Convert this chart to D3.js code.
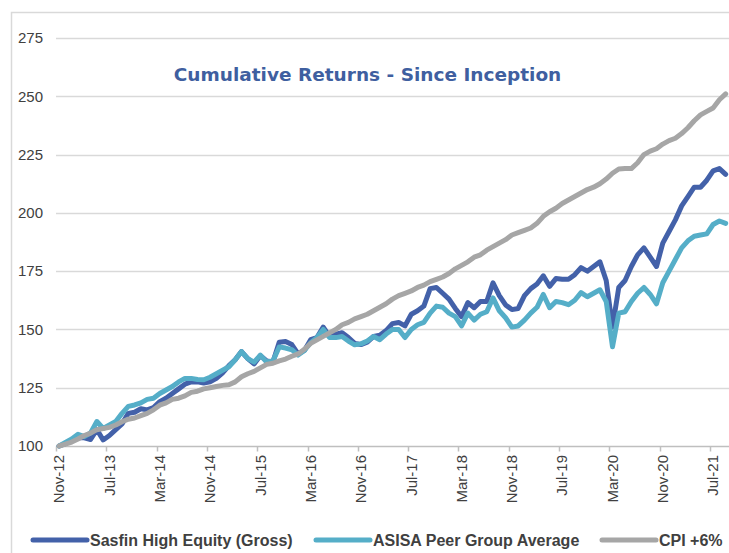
<!DOCTYPE html>
<html>
<head>
<meta charset="utf-8">
<script src="https://cdn.jsdelivr.net/npm/d3@7"></script>
<style>
    body { margin: 0; background: #fff; }
    svg { display: block; }
</style>
</head>
<body>
<div id="chart"></div>
<script>

// Monthly index levels, Nov-12 .. Sep-21 (base 100)
var sasfin = [
    100, 101, 102.5, 103.5, 103.5, 102.8, 107, 102.6, 104.5, 107,
    109.5, 114, 114.5, 116, 115.5, 116.5, 119, 120.5, 122.5, 124.5,
    126.5, 127.5, 127.5, 127, 127.5, 129, 131.4, 134.5, 137, 140.5,
    137.5, 135.2, 138.8, 136.5, 136, 144.5, 144.8, 143.5, 139.5, 141,
    145.6, 146.5, 151, 147, 148, 148.6, 146.5, 144, 143.5, 144.5,
    147, 147.5, 149.5, 152.5, 153, 151.5, 156.5, 158, 160, 167.5,
    168, 165.5, 163, 159, 155.5, 161.5, 159.3, 162, 162, 170,
    164.5, 160.5, 158.5, 159, 164.5, 167.5, 169.5, 173, 168.5, 171.8,
    171.5, 171.5, 173.5, 176.5, 175, 177, 179, 171, 151, 168,
    171, 177, 182, 185, 181, 177, 187, 192, 197, 203,
    207, 211, 211, 214, 218, 219, 216.5
];

var asisa = [
    100, 101.5, 103, 105, 104, 105.6, 110.5, 107.5, 109, 110.5,
    114, 117, 117.6, 118.5, 120, 120.5, 122.5, 124, 125.5, 127.5,
    129, 129, 128.5, 128.4, 129.5, 131, 132.5, 134, 137, 140.5,
    137.5, 136, 139, 136, 136.5, 142.5, 142, 141.3, 139, 141,
    144.3, 146.5, 150, 146.5, 146.5, 147, 145, 143.4, 143.8, 145,
    147, 145.6, 148, 150, 150, 146.5, 150, 152, 153, 157,
    160, 159.5, 157, 155.5, 151.5, 157, 154, 156.5, 157.6, 163.5,
    158, 155, 151, 151.5, 154, 157, 159.5, 165, 159.3, 162,
    161.5, 160.6, 162.5, 165.8, 164, 165.5, 167, 162, 142.6, 157,
    157.6, 162, 165.5, 168, 165, 161, 170, 175, 180, 185,
    188, 190, 190.5, 191, 195, 196.5, 195.5
];

var cpi = [
    100, 100.8, 101.7, 103, 104.5, 105.5, 107, 107.5, 108, 109,
    110.4, 111.5, 112, 113, 114, 115.5, 117.5, 118.5, 120, 120.5,
    121.5, 123, 123.5, 124.5, 125, 125.5, 126, 126.3, 127.5, 129.7,
    131, 132, 133.5, 135, 135.5, 136.5, 137.3, 138.5, 139.5, 141.5,
    144, 145.5, 147, 148.5, 150, 152, 153, 154.5, 155.5, 156.5,
    158, 159.5, 161, 163, 164.5, 165.5, 166.5, 168, 169, 170.5,
    171.5, 172.5, 174, 176, 177.5, 179, 181, 182, 184, 185.5,
    187, 188.5, 190.5, 191.5, 192.5, 193.5, 195.5, 198.5, 200.5, 202,
    204, 205.5, 207, 208.5, 210, 211, 212.5, 214.5, 217, 218.8,
    219, 219, 221.5, 225, 226.5, 227.5, 229.5, 231, 232, 234,
    236.5, 239.5, 242, 243.5, 245, 248.5, 251
];

var yTicks = [100, 125, 150, 175, 200, 225, 250, 275];

var seriesNames = ['Sasfin High Equity (Gross)', 'ASISA Peer Group Average', 'CPI +6%'];
var seriesColors = ['#4361a9', '#55aec8', '#a6a6a6'];

var formatMonth = d3.timeFormat('%b-%y');
var months = d3.timeMonth.range(new Date(2012, 10, 1), new Date(2021, 9, 1)).map(formatMonth);

var width = 729;
var height = 553;

var svg = d3.select('#chart').append('svg')
    .attr('width', width)
    .attr('height', height)
    .style('font-family', '"Liberation Sans", Arial, sans-serif');

// chart frame
svg.append('rect')
    .attr('x', 11.5)
    .attr('y', 12.5)
    .attr('width', 740)
    .attr('height', 560)
    .style('fill', 'none')
    .style('stroke', '#d9d9d9')
    .style('stroke-width', 1.5);

var x = d3.scaleBand()
    .domain(months)
    .range([56, 56 + 6.288 * months.length])
    .padding(0);

var y = d3.scaleLinear()
    .domain([100, 275])
    .range([446, 38]);

function cx(d) { return x(d) + x.bandwidth() / 2; }

/**
 * Horizontal gridlines, one per y tick (the 100 line is the axis).
 */
svg.append('g')
        .attr('class', 'grid')
    .selectAll('line')
        .data(yTicks.slice(1))
    .enter().append('line')
        .attr('x1', 56)
        .attr('x2', width)
        .attr('y1', function (d) { return Math.round(y(d)) + 0.5; })
        .attr('y2', function (d) { return Math.round(y(d)) + 0.5; })
        .style('stroke', '#d9d9d9')
        .style('stroke-width', 1.5);

// y tick labels
svg.append('g')
    .selectAll('text')
        .data(yTicks)
    .enter().append('text')
        .attr('x', 43)
        .attr('y', function (d) { return y(d); })
        .attr('dy', '0.35em')
        .attr('text-anchor', 'end')
        .style('font-size', '15px')
        .style('fill', '#404040')
        .text(function (d) { return d; });

// x axis: ticks at category boundaries, labels at category centres
var tickMonths = months.filter(function (d, i) { return i % 8 === 0; });

var xAxis = d3.axisBottom(x)
    .tickValues(tickMonths)
    .tickSize(5)
    .tickFormat('');

var axisG = svg.append('g')
    .attr('transform', 'translate(0,' + (Math.round(y(100)) + 0.5) + ')')
    .call(xAxis);

axisG.select('.domain')
    .attr('d', 'M56,0H' + width)
    .style('stroke', '#bfbfbf')
    .style('stroke-width', 1.5);

axisG.selectAll('.tick')
    .attr('transform', function (d) { return 'translate(' + (Math.round(x(d)) + 0.5) + ',0)'; });

axisG.selectAll('.tick line')
    .style('stroke', '#bfbfbf')
    .style('stroke-width', 1.5);

svg.append('g')
    .selectAll('text')
        .data(tickMonths)
    .enter().append('text')
        .attr('transform', function (d) { return 'translate(' + cx(d) + ',455) rotate(-90)'; })
        .attr('dy', '0.35em')
        .attr('text-anchor', 'end')
        .style('font-size', '15px')
        .style('fill', '#404040')
        .text(function (d) { return d; });

// series lines, CPI drawn last (on top)
var line = d3.line()
    .x(function (d, i) { return cx(months[i]); })
    .y(function (d) { return y(d); });

[sasfin, asisa, cpi].forEach(function (values, i) {
    svg.append('path')
        .datum(values)
        .attr('d', line)
        .style('fill', 'none')
        .style('stroke', seriesColors[i])
        .style('stroke-width', 5)
        .style('stroke-linejoin', 'round')
        .style('stroke-linecap', 'round');
});

// title
svg.append('text')
    .attr('x', 367.5)
    .attr('y', 81)
    .attr('text-anchor', 'middle')
    .style('font-family', '"DejaVu Sans", Verdana, sans-serif')
    .style('font-weight', 'bold')
    .style('font-size', '18.5px')
    .style('fill', '#3f5fa0')
    .text('Cumulative Returns - Since Inception');

/**
 * Legend: swatch line then bold label, positioned along the bottom.
 */
var legendX = [33, 316, 602];

var legend = svg.append('g')
    .selectAll('g')
        .data(seriesNames)
    .enter().append('g')
        .attr('transform', function (d, i) { return 'translate(' + legendX[i] + ',540)'; });

legend.append('line')
    .attr('x1', 0)
    .attr('x2', 54)
    .style('stroke', function (d, i) { return seriesColors[i]; })
    .style('stroke-width', 5)
    .style('stroke-linecap', 'round');

legend.append('text')
    .attr('x', 57)
    .attr('dy', '0.35em')
    .style('font-size', '16px')
    .style('font-weight', 'bold')
    .style('fill', '#404040')
    .text(function (d) { return d; });

</script>
</body>
</html>
